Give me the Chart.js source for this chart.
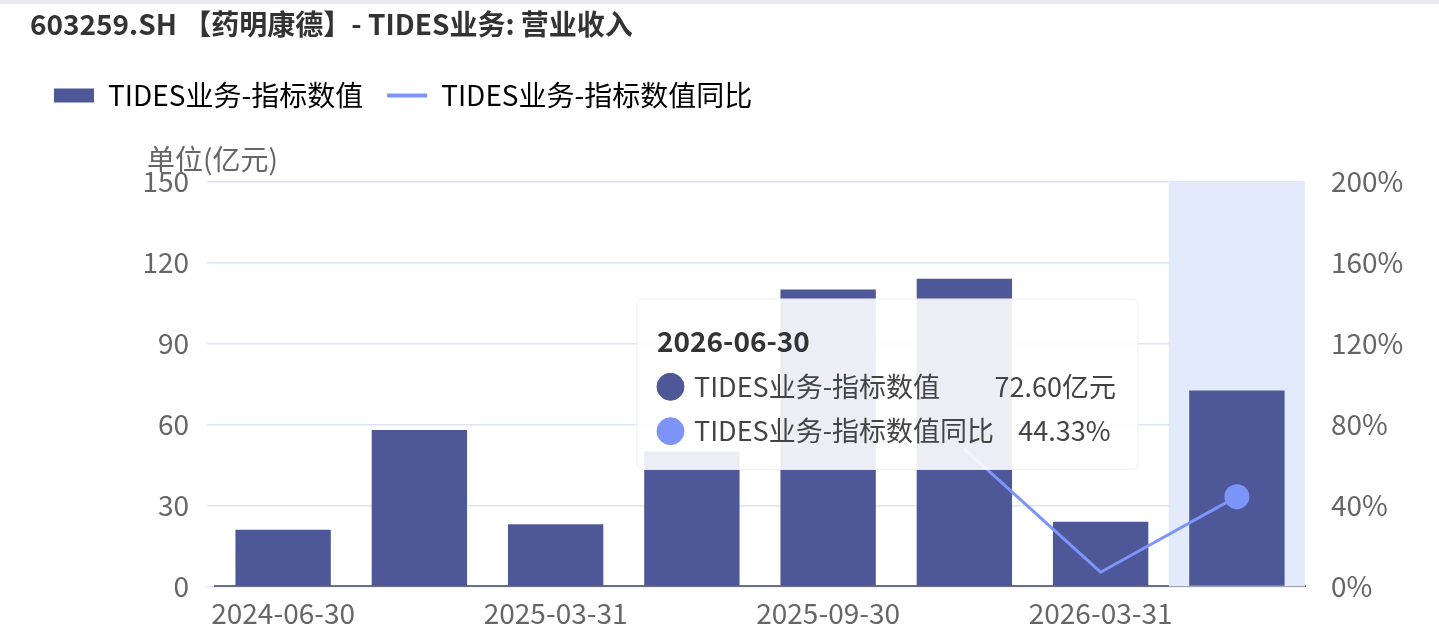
<!DOCTYPE html>
<html><head><meta charset="utf-8">
<script src="https://cdn.jsdelivr.net/npm/chart.js@4"></script>
<style>html,body{margin:0;padding:0;background:#fff;}#wrap{position:absolute;left:0;top:0;width:1439px;height:632px;border-top:4px solid #e8e8f4;box-sizing:border-box;}</style>
</head><body><div id="wrap"><canvas id="c"></canvas></div>
<script>
const categories=['2024-06-30','2024-12-31','2025-03-31','2025-06-30','2025-09-30','2025-12-31','2026-03-31','2026-06-30'];
const values=[21,58,23,50,110,114,24,72.6];
const yoy=[null,null,null,null,null,68,7,44.33];
const leftTicks=[0,30,60,90,120,150];
const rightTicks=[0,40,80,120,160,200];
const ff='"Noto Sans CJK SC","Noto Sans",sans-serif';
const hl=7;
const band={id:'band',beforeDatasetsDraw(ch){const x=ch.scales.x,a=ch.chartArea,w=x.getPixelForValue(1)-x.getPixelForValue(0);const c=x.getPixelForValue(hl);ch.ctx.save();ch.ctx.fillStyle='#e3eafb';ch.ctx.fillRect(c-w/2,a.top,w,a.bottom-a.top);ch.ctx.restore();}};
const unit={id:'unit',afterDraw(ch){const c=ch.ctx;c.save();c.font='28px '+ff;c.fillStyle='#666';c.textAlign='left';c.textBaseline='middle';c.fillText('单位(亿元)',147,155);c.restore();}};
Chart.Tooltip.positioners.fixed=function(){return {x:643,y:295};};
const ch=new Chart(document.getElementById('c'),{
data:{labels:categories,datasets:[
{type:'bar',label:'TIDES业务-指标数值',data:values,backgroundColor:'#4e5898',yAxisID:'y',barPercentage:0.7,categoryPercentage:1,order:2},
{type:'line',label:'TIDES业务-指标数值同比',data:yoy,borderColor:'#7d94f8',backgroundColor:'#7d94f8',borderWidth:3,yAxisID:'y1',pointRadius:[0,0,0,0,0,0,0,11],pointHoverRadius:11,pointBackgroundColor:'#7d94f8',order:1}]},
options:{responsive:true,maintainAspectRatio:false,animation:false,
layout:{padding:{left:30,right:20,top:0,bottom:0}},
interaction:{mode:'index',intersect:false},
plugins:{
title:{display:true,text:'603259.SH 【药明康德】- TIDES业务: 营业收入',align:'start',color:'#333',font:{family:ff,size:28,weight:'bold'},padding:{top:4,bottom:16}},
legend:{align:'start',labels:{font:{family:ff,size:28},color:'#555',usePointStyle:true,pointStyleWidth:40,boxHeight:14,padding:24,
 generateLabels(c){return [{text:'TIDES业务-指标数值',fillStyle:'#4e5898',strokeStyle:'#4e5898',lineWidth:0,pointStyle:'rect',datasetIndex:0},{text:'TIDES业务-指标数值同比',fillStyle:'#7d94f8',strokeStyle:'#7d94f8',lineWidth:4,pointStyle:'line',datasetIndex:1}];}}},
tooltip:{position:'fixed',xAlign:'left',yAlign:'top',caretSize:0,caretPadding:0,backgroundColor:'rgba(255,255,255,0.9)',titleColor:'#333',bodyColor:'#444',
 titleFont:{family:ff,size:28,weight:'bold'},bodyFont:{family:ff,size:27},padding:{left:20,right:22,top:26,bottom:22},titleMarginBottom:12,bodySpacing:12,
 usePointStyle:true,boxPadding:8,cornerRadius:6,borderColor:'#eee',borderWidth:1,
 callbacks:{label(ctx){return ctx.datasetIndex===0?'TIDES业务-指标数值         '+ctx.raw.toFixed(2)+'亿元':'TIDES业务-指标数值同比    '+ctx.raw.toFixed(2)+'%';},
 labelColor(ctx){const c=ctx.datasetIndex===0?'#4e5898':'#7d94f8';return {borderColor:c,backgroundColor:c};},
 labelPointStyle(){return {pointStyle:'circle',rotation:0};}}}},
scales:{
x:{grid:{display:false},border:{color:'#6a6f85',width:2},ticks:{autoSkip:false,maxRotation:0,font:{family:ff,size:28},color:'#666',padding:2,callback(v,i){return i%2===0?categories[i]:'';}}},
y:{position:'left',min:0,max:150,afterBuildTicks(s){s.ticks=leftTicks.map(v=>({value:v}));},afterFit(s){s.width=185;},
 grid:{color:'#dfe4f3',lineWidth:1.5},border:{display:false},ticks:{font:{family:ff,size:28},color:'#666',padding:18}},
y1:{position:'right',min:0,max:200,afterBuildTicks(s){s.ticks=rightTicks.map(v=>({value:v}));},afterFit(s){s.width=114;},
 grid:{display:false},border:{display:false},ticks:{font:{family:ff,size:28},color:'#666',padding:18,callback:v=>v+'%'}}}},
plugins:[band,unit]});
const lf=ch.legend.fit;ch.legend.fit=function(){lf.call(this);this.height+=62;};
ch.update();
ch.tooltip.setActiveElements([{datasetIndex:0,index:hl},{datasetIndex:1,index:hl}],{x:1238,y:500});
ch.update();
</script></body></html>
